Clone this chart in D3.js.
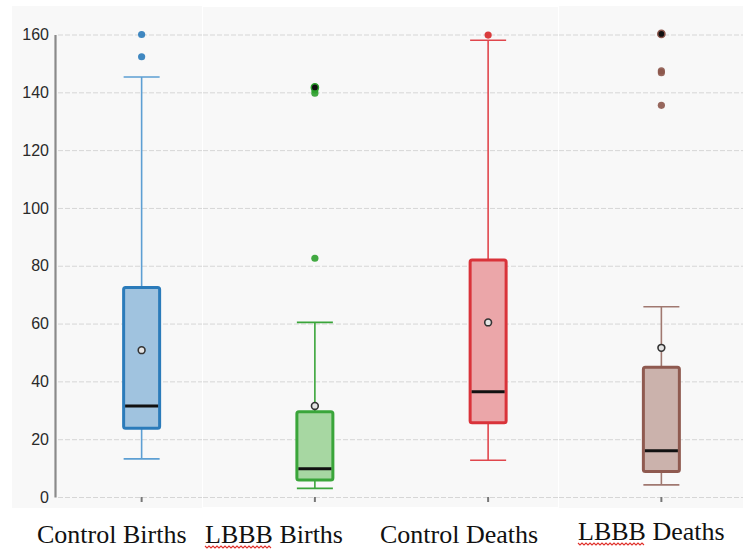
<!DOCTYPE html>
<html>
<head>
<meta charset="utf-8">
<script src="https://cdn.jsdelivr.net/npm/d3@7"></script>
<style>
  html, body { margin: 0; padding: 0; background: #fff; }
  svg { display: block; }
</style>
</head>
<body>
<svg id="chart" width="743" height="550"></svg>
<script>
// Box-plot summary per group
const categories   = ["Control Births", "LBBB Births", "Control Deaths", "LBBB Deaths"];
const lowWhisker   = [13.2, 3.0, 12.7, 4.2];
const q1           = [23.8, 5.9, 25.7, 8.8];
const median       = [31.5, 9.8, 36.4, 16.0];
const q3           = [72.5, 29.5, 82.0, 44.9];
const highWhisker  = [145.3, 60.4, 158.0, 65.8];
const means        = [50.8, 31.5, 60.4, 51.6];
const outliers     = [[160, 152.3], [140.8, 139.7, 82.6], [159.8], [147.4, 146.8, 135.5]];
const darkOutliers = [[], [141.7], [], [160.2]];
const yTicks       = [0, 20, 40, 60, 80, 100, 120, 140, 160];

// Palette per group: box edge, box fill, whisker, outlier
const boxStroke  = ["#2b7bba", "#3aa53a", "#d9333a", "#8f5a50"];
const boxFill    = ["#a0c3df", "#a7d7a2", "#eba6a9", "#cbb2ac"];
const whiskerCol = ["#5d9fd3", "#3aa53a", "#e0464c", "#a07870"];
const pointCol   = ["#2b7bba", "#2ca02c", "#d62728", "#8c564b"];

// Layout
const svg = d3.select("#chart");
const panels = [
  {x0: 12,  x1: 202, y0: 6, y1: 508, gridFrom: 58},
  {x0: 203, x1: 558, y0: 7, y1: 507, gridFrom: 203},
  {x0: 559, x1: 743, y0: 6, y1: 508, gridFrom: 559}
];
const labelLeft = [37, 205, 380, 578];
const labelBase = [543, 543, 543, 540];

const y = d3.scaleLinear().domain([0, 160]).range([497, 34.5]);
const x = d3.scaleBand().domain(categories).range([55, 748]);
const boxW = 36;

// Panel backgrounds and dashed grid
panels.forEach(p => {
  svg.append("rect")
    .attr("x", p.x0).attr("y", p.y0)
    .attr("width", p.x1 - p.x0).attr("height", p.y1 - p.y0)
    .attr("fill", "#f8f8f8");
  svg.append("g").selectAll("line").data(yTicks).join("line")
    .attr("x1", p.gridFrom).attr("x2", p.x1)
    .attr("y1", d => y(d) + 0.5).attr("y2", d => y(d) + 0.5)
    .attr("stroke", "#d6d6d6").attr("stroke-width", 1)
    .attr("stroke-dasharray", "5,2");
});

// Y axis
const yAxis = svg.append("g")
  .attr("transform", "translate(55,0)")
  .call(d3.axisLeft(y).tickValues(yTicks).tickSize(0).tickPadding(6));
yAxis.select(".domain").attr("stroke", "#8a8a8a").attr("stroke-width", 2.2);
yAxis.selectAll("text")
  .attr("font-family", "'Liberation Sans', Arial, sans-serif")
  .attr("font-size", 16).attr("fill", "#2a2a2a");

// Small x ticks under each box
svg.append("g").selectAll("rect").data(categories).join("rect")
  .attr("x", d => x(d) + x.bandwidth() / 2 - 1)
  .attr("y", 497).attr("width", 2).attr("height", 5)
  .attr("fill", "#777");

const groups = svg.append("g").selectAll("g").data(categories).join("g")
  .attr("transform", d => `translate(${x(d) + x.bandwidth() / 2},0)`);

// Whiskers, caps, box, median, outliers and mean
groups.each(function(d, i) {
  const g = d3.select(this);
  const c = whiskerCol[i];
  g.append("line").attr("x1", 0).attr("x2", 0)
    .attr("y1", y(q3[i])).attr("y2", y(highWhisker[i]))
    .attr("stroke", c).attr("stroke-width", 1.6);
  g.append("line").attr("x1", 0).attr("x2", 0)
    .attr("y1", y(q1[i])).attr("y2", y(lowWhisker[i]))
    .attr("stroke", c).attr("stroke-width", 1.6);
  [highWhisker[i], lowWhisker[i]].forEach(v => {
    g.append("line").attr("x1", -boxW / 2).attr("x2", boxW / 2)
      .attr("y1", y(v)).attr("y2", y(v))
      .attr("stroke", c).attr("stroke-width", 1.6);
  });
  g.append("rect")
    .attr("x", -boxW / 2).attr("y", y(q3[i]))
    .attr("width", boxW).attr("height", y(q1[i]) - y(q3[i]))
    .attr("rx", 2)
    .attr("fill", boxFill[i]).attr("stroke", boxStroke[i]).attr("stroke-width", 3);
  g.append("line").attr("x1", -boxW / 2 + 1.5).attr("x2", boxW / 2 - 1.5)
    .attr("y1", y(median[i])).attr("y2", y(median[i]))
    .attr("stroke", "#111").attr("stroke-width", 3);
  g.selectAll("circle.out").data(outliers[i]).join("circle")
    .attr("class", "out")
    .attr("cx", 0).attr("cy", v => y(v)).attr("r", 3.6)
    .attr("fill", pointCol[i]).attr("fill-opacity", 0.9);
  g.selectAll("circle.dark").data(darkOutliers[i]).join("circle")
    .attr("class", "dark")
    .attr("cx", 0).attr("cy", v => y(v)).attr("r", 3.6)
    .attr("fill", "#111").attr("stroke", pointCol[i]).attr("stroke-width", 1.5);
  g.append("circle")
    .attr("cx", 0).attr("cy", y(means[i])).attr("r", 3.4)
    .attr("fill", "#e4e4e4").attr("stroke", "#333").attr("stroke-width", 1.6);
});

// Category labels
const labels = svg.append("g").selectAll("text").data(categories).join("text")
  .attr("x", (d, i) => labelLeft[i])
  .attr("y", (d, i) => labelBase[i])
  .attr("font-family", "'Liberation Serif', 'Times New Roman', serif")
  .attr("font-size", 26)
  .attr("fill", "#111")
  .text(d => d);

// Spell-check style wavy underline beneath "LBBB"
labels.each(function(d, i) {
  if (!d.startsWith("LBBB")) return;
  const w = this.getSubStringLength(0, 4);
  const x0 = labelLeft[i], yb = labelBase[i] + 3;
  const pts = [];
  for (let t = 0; t <= w; t += 2) pts.push([x0 + t, yb + ((t / 2) % 2 === 0 ? 0 : 2)]);
  svg.append("path")
    .attr("d", d3.line()(pts))
    .attr("fill", "none").attr("stroke", "#e0302a").attr("stroke-width", 1.1);
});
</script>
</body>
</html>
